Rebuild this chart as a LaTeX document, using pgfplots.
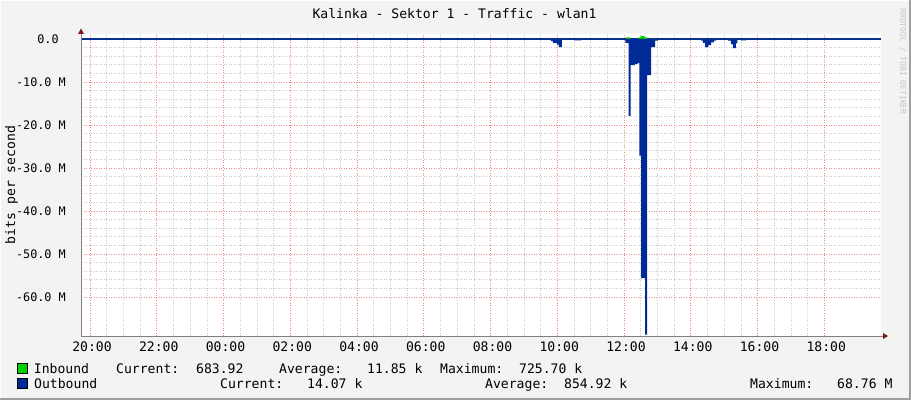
\documentclass[border=0pt]{standalone}
\usepackage{pgfplots}
\pgfplotsset{compat=1.18}
\usepackage{fontspec}
\setmainfont{DejaVu Sans Mono}
\setmonofont{DejaVu Sans Mono}
\definecolor{canvas}{HTML}{F3F3F3}
\definecolor{inb}{HTML}{00CF00}
\definecolor{outb}{HTML}{002A97}
\definecolor{mgrid}{HTML}{EC8C8C}
\definecolor{mngrid}{HTML}{C8C8C8}
\definecolor{axc}{HTML}{808080}
\definecolor{arr}{HTML}{801818}
\newcommand\lf{\fontsize{13.1}{15}\selectfont}
\newcommand\yf{\fontsize{11.8}{14}\selectfont}
\pgfplotstableread{
x y
-4.27 0
9.81 -0.5
9.87 -0.9
9.99 -1.3
10.05 -1.9
10.14 0
10.53 -0.3
10.72 0
12.04 -0.9
12.14 -17.9
12.20 -6.1
12.33 -5.8
12.41 -5.6
12.46 -27.1
12.51 -55.6
12.63 -68.76
12.69 -8.4
12.81 -1.9
12.93 -0.4
13.02 0
13.88 -0.2
14.13 0
14.31 -0.4
14.36 -0.9
14.43 -1.9
14.53 -1.4
14.61 -0.8
14.69 -0.4
14.76 0
15.12 -0.4
15.20 -1.2
15.26 -2.1
15.35 -1.0
15.40 0
15.51 -0.3
15.66 0
19.70 0
}\outbound
\pgfplotstableread{
x y
-4.27 0
12.06 0.4
12.18 0
12.44 0.35
12.50 0.73
12.62 0.35
12.69 0
19.70 0
}\inbound
\begin{document}
\begin{tikzpicture}[x=1pt,y=1pt]
\path[fill=canvas, use as bounding box] (0,0) rectangle (911,400);
\draw[white, line width=1] (0.5,0) -- (0.5,399.5) -- (911,399.5);
\draw[gray!75, line width=2] (0,1) -- (910,1) -- (910,400);
\begin{axis}[name=ax, at={(81pt,64pt)}, anchor=south west, scale only axis,
  width=800pt, height=302pt,
  xmin=-4.27, xmax=19.70, ymin=-69.07, ymax=1.16,
  axis background/.style={fill=white},
  axis line style={draw=none},
  xtick={-4,-2,...,18},
  xticklabels={20:00,22:00,00:00,02:00,04:00,06:00,08:00,10:00,12:00,14:00,16:00,18:00},
  minor x tick num=3,
  ytick={-60,-50,...,0},
  yticklabels={-60.0 M,-50.0 M,-40.0 M,-30.0 M,-20.0 M,-10.0 M,0.0\hphantom{M}},
  minor y tick num=4,
  grid=both,
  major grid style={mgrid, line width=0.7pt, dash pattern=on 1pt off 1.5pt},
  minor grid style={mngrid, line width=0.6pt, dash pattern=on 1pt off 1.5pt},
  major tick length=0pt, minor tick length=0pt,
  xticklabel style={font=\lf, anchor=base, inner sep=0pt, yshift=-15.5pt, xshift=2pt},
  yticklabel style={font=\yf, anchor=east, inner sep=0pt, xshift=-15pt},
]
\addplot[outb, line width=1.2pt] coordinates {(-4.27,0) (19.70,0)};
\addplot[const plot mark left, fill=inb, draw=none] table[x=x,y=y] {\inbound} \closedcycle;
\addplot[const plot mark left, fill=outb, draw=none] table[x=x,y=y] {\outbound} \closedcycle;
\end{axis}
\draw[axc, line width=1] (81,64) -- (883,64);
\draw[axc, line width=1] (81,64) -- (81,367);
\fill[arr] (78,366) -- (84,366) -- (81,371.5) -- cycle;
\fill[arr] (883,61) -- (883,67) -- (888,64) -- cycle;
\node[anchor=base, font=\lf, inner sep=0] at (454.5,381) {Kalinka - Sektor 1 - Traffic - wlan1};
\node[rotate=90, anchor=base, font=\lf, inner sep=0] at (15,215) {bits per second};
\node[rotate=-90, font=\fontsize{8}{9}\selectfont, text=gray!45, inner sep=0] at (903,338.5) {RRDTOOL / TOBI OETIKER};
\filldraw[fill=inb, draw=black, line width=0.6] (17.5,27) rectangle (27,37);
\filldraw[fill=outb, draw=black, line width=0.6] (17.5,12) rectangle (27,21.5);
\begin{scope}[every node/.style={anchor=base west, inner sep=0, font=\lf}]
\node at (33.7,27) {Inbound};
\node at (116,27) {Current:};
\node at (196,27) {683.92};
\node at (279,27) {Average:};
\node at (367,27) {11.85 k};
\node at (440,27) {Maximum:};
\node at (519,27) {725.70 k};
\node at (34,11.5) {Outbound};
\node at (220,11.5) {Current:};
\node at (307,11.5) {14.07 k};
\node at (485,11.5) {Average:};
\node at (564,11.5) {854.92 k};
\node at (750,11.5) {Maximum:};
\node at (837,11.5) {68.76 M};
\end{scope}
\end{tikzpicture}
\end{document}
